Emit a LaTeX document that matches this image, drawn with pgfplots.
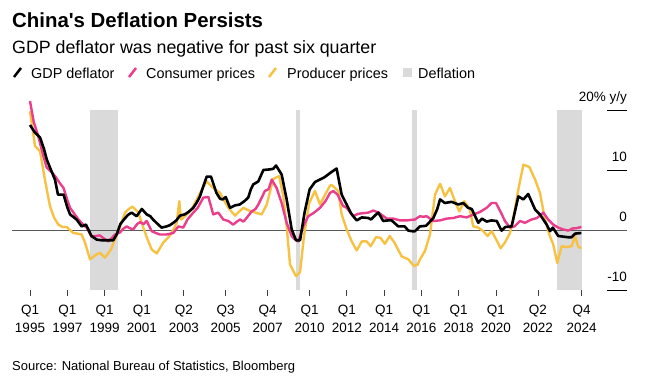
\documentclass[border=0pt]{standalone}
\usepackage{fontspec}
\setmainfont{Liberation Sans}
\newfontfamily\plainfont{Liberation Sans}
\usepackage{pgfplots}
\pgfplotsset{compat=1.18}
\definecolor{pinkc}{HTML}{EA3D8C}
\definecolor{yellowc}{HTML}{F7C244}
\definecolor{bandc}{HTML}{DADADA}
\begin{document}
\begin{tikzpicture}[x=1pt,y=1pt]
\useasboundingbox (0,0) rectangle (650,386);
\node[anchor=base west, inner sep=0, font=\plainfont\fontsize{20.4}{23}\selectfont\bfseries] at (12,358) {China's Deflation Persists};
\node[anchor=base west, inner sep=0, font=\fontsize{17.8}{20}\selectfont] at (12,332) {GDP deflator was negative for past six quarter};
% legend
\draw[line width=2.5pt, black] (14,309) -- (21,318);
\node[anchor=base west, inner sep=0, font=\fontsize{14.4}{17}\selectfont] at (31,307.7) {GDP deflator};
\draw[line width=2.5pt, pinkc] (129,309) -- (136,318);
\node[anchor=base west, inner sep=0, font=\fontsize{14.4}{17}\selectfont] at (146,307.7) {Consumer prices};
\draw[line width=2.5pt, yellowc] (269,309) -- (276,318);
\node[anchor=base west, inner sep=0, font=\fontsize{14.4}{17}\selectfont] at (287,307.7) {Producer prices};
\fill[bandc] (403,308.5) rectangle (412,317.5);
\node[anchor=base west, inner sep=0, font=\fontsize{14.4}{17}\selectfont] at (418,307.7) {Deflation};
\node[anchor=base west, inner sep=0, font=\fontsize{13}{15}\selectfont] at (12,15.3) {Source: National Bureau of Statistics, Bloomberg};
\begin{axis}[
  at={(12pt,96pt)}, anchor=south west,
  width=615pt, height=180pt, scale only axis,
  xmin=1994.034, xmax=2027.03, ymin=-10, ymax=20,
  clip=false,
  axis x line*=bottom, axis y line=none,
  x axis line style={draw=none},
  ytick=\empty,
  tick align=outside, major tick length=5.5pt,
  xtick={1995,1997,1999,2001,2003.25,2005.5,2007.75,2010,2012,2014,2016,2018,2020,2022.25,2024.6},
  xticklabels={{Q1\\1995},{Q1\\1997},{Q1\\1999},{Q1\\2001},{Q2\\2003},{Q3\\2005},{Q4\\2007},{Q1\\2010},{Q1\\2012},{Q1\\2014},{Q1\\2016},{Q1\\2018},{Q1\\2020},{Q2\\2022},{Q4\\2024}},
  xtick style={draw=black!75, line width=0.8pt},
  xticklabel style={align=center, font=\fontsize{13.5}{18.5}\selectfont, inner sep=0pt, anchor=north, yshift=-9pt},
  line join=round,
]
% deflation bands
\addplot[fill=bandc, draw=none] coordinates {(1998.23,-10) (1998.23,20) (1999.74,20) (1999.74,-10)} -- cycle;
\addplot[fill=bandc, draw=none] coordinates {(2009.25,-10) (2009.25,20) (2009.5,20) (2009.5,-10)} -- cycle;
\addplot[fill=bandc, draw=none] coordinates {(2015.49,-10) (2015.49,20) (2015.76,20) (2015.76,-10)} -- cycle;
\addplot[fill=bandc, draw=none] coordinates {(2023.27,-10) (2023.27,20) (2024.6,20) (2024.6,-10)} -- cycle;
% zero line and right ticks
\addplot[draw=black!65, line width=0.8pt] coordinates {(1994.034,0) (2027.03,0)};
\addplot[draw=black, line width=0.8pt] coordinates {(2025.96,20) (2027.03,20)};
\addplot[draw=black, line width=0.8pt] coordinates {(2025.96,10) (2027.03,10)};
\addplot[draw=black, line width=0.8pt] coordinates {(2025.96,-10) (2027.03,-10)};
% Producer prices
\addplot[yellowc, line width=2.4pt] coordinates {
(1995.0,19.8)(1995.27,14.0)(1995.54,13.1)(1995.8,8.4)(1996.07,4.0)(1996.3,2.0)(1996.52,0.9)(1996.75,0.5)(1996.97,0.5)(1997.15,0.0)(1997.32,-0.5)(1997.55,-0.6)(1997.77,-0.75)(1997.95,-2.1)(1998.22,-4.9)(1998.5,-4.2)(1998.75,-3.8)(1999.02,-4.6)(1999.2,-3.9)(1999.38,-3.0)(1999.55,-1.6)(1999.74,-0.2)(2000.1,2.9)(2000.3,3.5)(2000.5,3.9)(2000.81,2.9)(2001.08,0.4)(2001.3,-1.5)(2001.53,-3.25)(2001.8,-3.9)(2002.15,-2.1)(2002.4,-1.3)(2002.6,-0.5)(2002.87,1.2)(2003.01,4.8)(2003.1,1.75)(2003.32,2.3)(2003.67,3.4)(2004.03,5.6)(2004.25,6.9)(2004.48,8.1)(2004.83,7.0)(2005.19,6.2)(2005.4,5.0)(2005.64,3.7)(2006.0,2.4)(2006.2,3.0)(2006.44,3.7)(2006.7,3.3)(2006.89,3.1)(2007.2,2.8)(2007.43,2.6)(2007.7,4.25)(2008.05,8.5)(2008.37,9.0)(2008.59,5.6)(2008.77,0.6)(2008.95,-5.75)(2009.27,-7.7)(2009.49,-7.0)(2009.7,-1.0)(2009.98,4.5)(2010.29,6.5)(2010.56,4.25)(2010.83,5.9)(2011.1,7.4)(2011.19,7.5)(2011.54,6.5)(2011.72,2.6)(2011.99,0.1)(2012.26,-1.9)(2012.53,-3.4)(2012.8,-1.9)(2013.06,-1.9)(2013.28,-2.7)(2013.56,-1.2)(2013.8,-1.3)(2014.04,-2.3)(2014.3,-1.0)(2014.55,-2.1)(2014.94,-4.4)(2015.3,-4.9)(2015.6,-6.0)(2015.8,-5.75)(2015.92,-4.9)(2016.19,-3.5)(2016.46,-0.75)(2016.73,5.9)(2017.0,7.7)(2017.26,5.6)(2017.53,7.0)(2017.8,4.8)(2018.03,3.1)(2018.3,4.8)(2018.6,3.4)(2018.78,0.6)(2019.05,0.4)(2019.32,-0.2)(2019.55,-1.0)(2019.77,-0.2)(2020.04,-1.75)(2020.25,-3.05)(2020.48,-2.1)(2020.75,-0.5)(2020.93,2.0)(2021.2,6.75)(2021.47,10.9)(2021.79,10.5)(2022.1,8.4)(2022.36,6.2)(2022.63,1.75)(2022.86,-0.75)(2023.07,-2.4)(2023.29,-5.5)(2023.52,-2.7)(2023.75,-2.85)(2024.06,-2.7)(2024.24,-1.0)(2024.42,-2.85)(2024.58,-3.0)
};
% Consumer prices
\addplot[pinkc, line width=2.4pt] coordinates {
(1995.0,21.5)(1995.2,18.0)(1995.45,15.6)(1995.7,12.5)(1995.9,10.4)(1996.1,9.8)(1996.34,9.0)(1996.6,7.8)(1996.8,7.0)(1997.0,5.0)(1997.15,3.7)(1997.4,2.6)(1997.6,1.75)(1997.85,0.9)(1998.04,0.4)(1998.3,-1.1)(1998.5,-1.0)(1998.75,-0.9)(1999.0,-1.5)(1999.2,-1.9)(1999.4,-1.3)(1999.56,-0.75)(1999.83,-0.4)(2000.0,0.2)(2000.19,0.6)(2000.35,0.3)(2000.54,0.1)(2000.75,1.0)(2000.9,1.3)(2001.1,1.0)(2001.26,1.5)(2001.53,-0.2)(2001.75,-0.5)(2001.97,-0.75)(2002.33,-0.75)(2002.69,-0.5)(2002.96,0.6)(2003.22,0.4)(2003.45,1.75)(2003.76,2.9)(2004.0,3.7)(2004.3,5.4)(2004.57,5.5)(2004.83,2.6)(2005.1,2.9)(2005.37,1.75)(2005.64,1.5)(2005.9,0.9)(2006.1,1.4)(2006.27,1.75)(2006.45,1.4)(2006.62,2.0)(2006.89,3.1)(2007.1,3.5)(2007.25,4.25)(2007.45,5.5)(2007.6,6.5)(2007.8,6.8)(2007.97,8.4)(2008.23,7.0)(2008.5,4.5)(2008.77,1.2)(2009.04,-1.0)(2009.2,-1.5)(2009.39,-1.9)(2009.66,0.6)(2009.93,2.3)(2010.2,2.8)(2010.56,3.7)(2010.85,4.8)(2011.1,6.2)(2011.27,6.5)(2011.5,5.9)(2011.8,4.0)(2011.99,3.7)(2012.34,2.3)(2012.6,2.7)(2013.15,2.9)(2013.42,3.25)(2013.7,2.9)(2014.14,1.9)(2014.5,1.9)(2014.85,1.6)(2015.2,1.6)(2015.65,1.75)(2015.92,2.3)(2016.1,2.2)(2016.28,2.3)(2016.64,1.5)(2017.0,1.6)(2017.36,1.9)(2017.71,2.0)(2018.07,2.3)(2018.43,2.1)(2018.8,2.6)(2019.14,3.0)(2019.5,3.7)(2019.77,4.5)(2020.0,4.5)(2020.3,2.7)(2020.48,1.5)(2020.75,0.4)(2021.0,0.6)(2021.29,1.5)(2021.55,1.2)(2021.91,1.75)(2022.2,2.0)(2022.54,2.9)(2022.8,1.75)(2023.07,0.9)(2023.34,0.4)(2023.6,0.1)(2023.88,-0.1)(2024.1,0.25)(2024.3,0.3)(2024.58,0.5)
};
% GDP deflator
\addplot[black, line width=2.6pt] coordinates {
(1995.0,17.5)(1995.25,16.3)(1995.54,15.4)(1995.75,13.5)(1995.9,11.75)(1996.1,10.2)(1996.34,8.4)(1996.5,5.9)(1996.8,5.9)(1997.0,3.8)(1997.15,2.6)(1997.5,1.75)(1997.77,0.6)(1998.0,0.9)(1998.3,-1.0)(1998.58,-1.6)(1998.8,-1.7)(1999.0,-1.7)(1999.25,-1.7)(1999.47,-1.7)(1999.65,-0.75)(1999.85,1.0)(2000.04,1.75)(2000.25,2.5)(2000.45,2.9)(2000.72,2.3)(2001.0,3.5)(2001.26,2.6)(2001.45,2.3)(2001.6,1.75)(2001.85,1.0)(2002.06,0.4)(2002.33,0.6)(2002.5,0.8)(2002.69,1.2)(2002.85,1.6)(2003.05,2.4)(2003.3,2.6)(2003.5,3.0)(2003.76,3.7)(2003.95,4.6)(2004.12,5.6)(2004.3,7.3)(2004.48,8.9)(2004.71,8.9)(2005.0,6.2)(2005.2,5.2)(2005.34,5.1)(2005.5,5.5)(2005.73,3.7)(2006.0,4.1)(2006.25,4.25)(2006.5,4.8)(2006.71,5.4)(2006.85,6.8)(2006.98,7.6)(2007.25,8.1)(2007.52,10.0)(2007.87,10.1)(2008.05,10.2)(2008.2,10.75)(2008.5,9.25)(2008.77,5.1)(2009.04,0.1)(2009.27,-1.7)(2009.49,-1.7)(2009.73,2.9)(2010.0,6.75)(2010.29,8.0)(2010.55,8.4)(2010.8,8.8)(2011.1,9.5)(2011.45,10.25)(2011.72,5.9)(2011.99,4.25)(2012.2,2.9)(2012.34,2.3)(2012.53,1.6)(2012.8,2.1)(2013.15,2.0)(2013.3,1.75)(2013.5,2.4)(2013.69,2.9)(2013.95,1.5)(2014.2,1.6)(2014.4,1.6)(2014.76,0.6)(2015.1,0.6)(2015.3,-0.1)(2015.5,-0.2)(2015.65,-0.2)(2015.92,0.6)(2016.25,0.7)(2016.64,2.0)(2016.85,3.5)(2017.0,5.1)(2017.26,4.5)(2017.62,4.7)(2017.98,4.25)(2018.25,4.5)(2018.5,3.7)(2018.7,3.5)(2019.05,1.2)(2019.25,1.9)(2019.5,1.4)(2019.75,1.6)(2020.04,1.5)(2020.3,-0.1)(2020.5,0.5)(2020.84,0.6)(2021.2,5.6)(2021.47,5.1)(2021.73,6.0)(2022.1,3.4)(2022.36,2.6)(2022.72,0.9)(2022.9,-0.2)(2023.05,0.4)(2023.34,-1.0)(2023.6,-1.1)(2023.85,-1.2)(2024.06,-1.2)(2024.25,-0.6)(2024.58,-0.5)
};
% right-hand value labels
\node[anchor=base east, inner sep=0, font=\fontsize{13.5}{16}\selectfont] at (axis cs:2027.03,20) [yshift=8.3pt] {20\% y/y};
\node[anchor=base east, inner sep=0, font=\fontsize{13.5}{16}\selectfont] at (axis cs:2027.03,10) [yshift=8.3pt] {10};
\node[anchor=base east, inner sep=0, font=\fontsize{13.5}{16}\selectfont] at (axis cs:2027.03,0) [yshift=8.3pt] {0};
\node[anchor=base east, inner sep=0, font=\fontsize{13.5}{16}\selectfont] at (axis cs:2027.03,-10) [yshift=8.3pt] {-10};
\end{axis}
\end{tikzpicture}
\end{document}
